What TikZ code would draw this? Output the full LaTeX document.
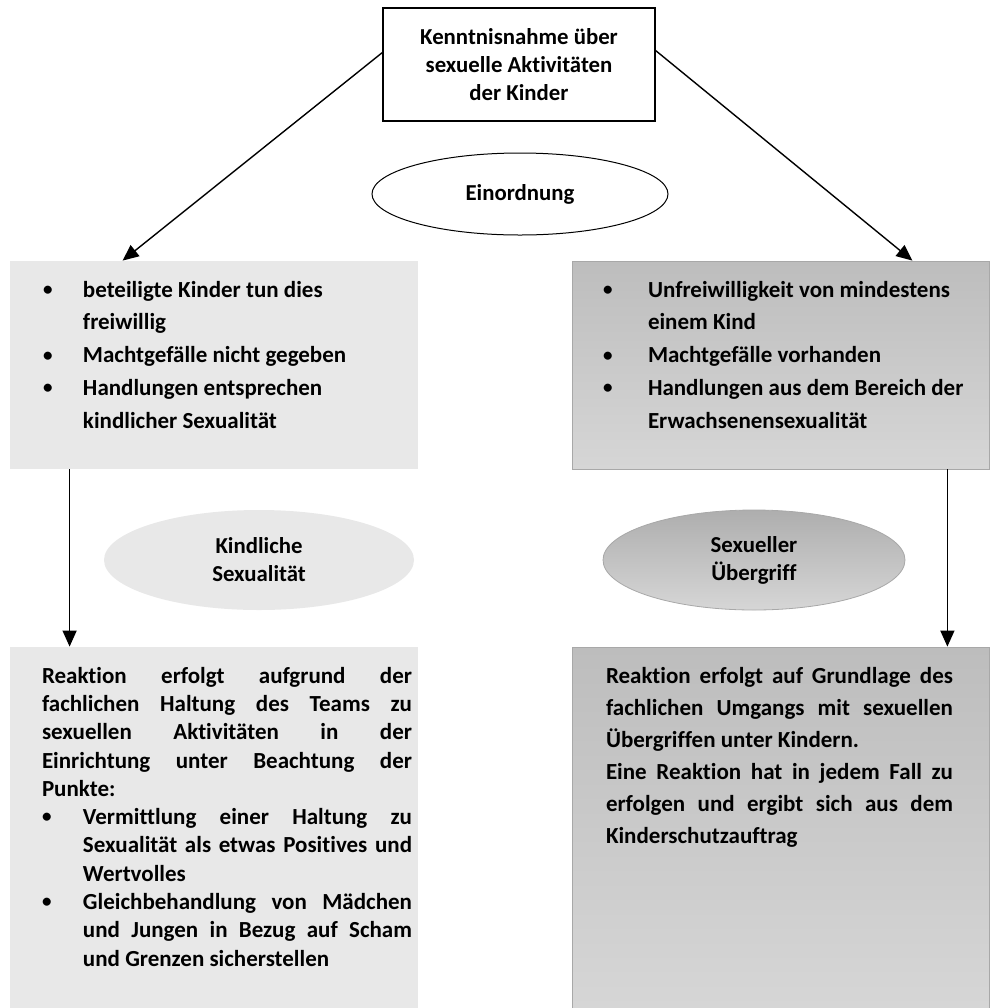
\documentclass[tikz,border=0pt]{standalone}
\usepackage{fontspec}
\setmainfont{Carlito}[Ligatures=NoCommon]
\usepackage{xcolor}
\usetikzlibrary{shapes.geometric, arrows.meta, positioning}

\definecolor{boxlight}{HTML}{E8E8E8}
\definecolor{boxdarktop}{HTML}{BDBDBD}
\definecolor{boxdarkbot}{HTML}{D6D6D6}
\definecolor{rimgray}{HTML}{A8A8A8}

\newcommand{\bpoint}[2][20pt]{\noindent\hangindent=#1\hangafter=1\makebox[#1][l]{\raisebox{0.15ex}{\fontsize{9.5}{9.5}\selectfont\textbullet}}#2\par}

\tikzset{
  lightbox/.style={rectangle, fill=boxlight, minimum width=204pt, minimum height=#1, inner sep=0pt},
  darkbox/.style={rectangle, draw=rimgray, line width=0.4pt, top color=boxdarktop, bottom color=boxdarkbot,
    minimum width=208.5pt, minimum height=#1, inner sep=0pt},
  textblock/.style={inner sep=0pt, text width=#1},
  arrow/.style={-{Triangle[length=8pt,width=7pt]}, line width=0.7pt}
}

\begin{document}
\begin{tikzpicture}[x=0.5pt, y=-0.5pt, font=\bfseries\fontsize{11.4}{14}\selectfont]
  \useasboundingbox (0,0) rectangle (997,1008);
  \fill[white] (0,0) rectangle (997,1008);

  % top and classification
  \node[draw, fill=white, line width=0.6pt, minimum width=136pt, minimum height=56.5pt, align=center] (notice) at (519,64.5)
    {Kenntnisnahme über\\sexuelle Aktivitäten\\der Kinder};
  \node[ellipse, draw, line width=0.5pt, fill=white, minimum width=148pt, minimum height=41pt] (sort) at (520,194) {Einordnung};

  % criteria boxes
  \node[lightbox=104pt] (free) at (214,365) {};
  \node[darkbox=104pt] (forced) at (780.5,365) {};
  \node[textblock=180pt, align=flush left, font=\bfseries\fontsize{11.5}{16.4}\selectfont, below right=10pt and 16.5pt of free.north west] (freetext)
    {\bpoint{beteiligte Kinder tun dies\newline freiwillig}%
     \bpoint{Machtgefälle nicht gegeben}%
     \bpoint{Handlungen entsprechen\newline kindlicher Sexualität}};
  \node[textblock=186pt, align=flush left, font=\bfseries\fontsize{11.5}{16.4}\selectfont, below right=10pt and 15.5pt of forced.north west] (forcedtext)
    {\bpoint[22.5pt]{Unfreiwilligkeit von mindestens\newline einem Kind}%
     \bpoint[22.5pt]{Machtgefälle vorhanden}%
     \bpoint[22.5pt]{Handlungen aus dem Bereich der\newline Erwachsenensexualität}};

  % assessment
  \node[ellipse, fill=boxlight, minimum width=155pt, minimum height=50pt, align=center] (childlike) at (259,560)
    {Kindliche\\Sexualität};
  \node[ellipse, draw=rimgray, top color=boxdarktop!92!black, bottom color=boxdarkbot, minimum width=151pt, minimum height=50pt, align=center] (assault) at (754,560)
    {Sexueller\\Übergriff};

  % reaction boxes
  \node[lightbox=180.5pt] (react) at (214,827.5) {};
  \node[darkbox=180.5pt] (protect) at (780.5,827.5) {};
  \node[textblock=185pt, align=justify, font=\bfseries\fontsize{11.5}{14.15}\selectfont, below right=10pt and 16pt of react.north west] (reacttext)
    {\noindent Reaktion erfolgt aufgrund der\linebreak fachlichen Haltung des Teams zu\linebreak sexuellen Aktivitäten in der\linebreak Einrichtung unter Beachtung der\linebreak Punkte:\par
     \bpoint[20.5pt]{Vermittlung einer Haltung zu\linebreak Sexualität als etwas Positives und\linebreak Wertvolles}%
     \bpoint[20.5pt]{Gleichbehandlung von Mädchen\linebreak und Jungen in Bezug auf Scham\linebreak und Grenzen sicherstellen}};
  \node[textblock=173.5pt, align=justify, font=\bfseries\fontsize{11.5}{16}\selectfont, below right=10pt and 17pt of protect.north west] (protecttext)
    {\noindent Reaktion erfolgt auf Grundlage des\linebreak fachlichen Umgangs mit sexuellen\linebreak Übergriffen unter Kindern.\par
     \noindent Eine Reaktion hat in jedem Fall zu\linebreak erfolgen und ergibt sich aus dem\linebreak Kinderschutzauftrag};

  % connectors
  \draw[arrow] ([yshift=6pt]notice.west) -- ([xshift=56.5pt]free.north west);
  \draw[arrow] ([yshift=7pt]notice.east) -- ([xshift=-38.5pt]forced.north east);
  \draw[arrow] ([xshift=30pt]free.south west) -- ([xshift=30pt]react.north west);
  \draw[arrow] ([xshift=-21pt]forced.south east) -- ([xshift=-21pt]protect.north east);
\end{tikzpicture}
\end{document}
